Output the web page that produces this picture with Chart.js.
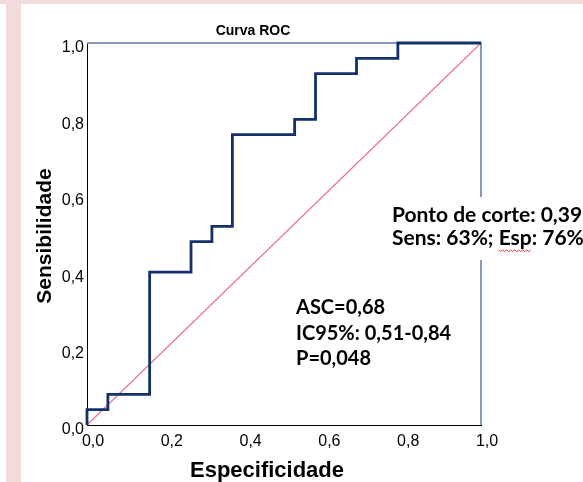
<!DOCTYPE html>
<html><head><meta charset="utf-8">
<script src="https://cdn.jsdelivr.net/npm/chart.js@4"></script>
<style>
html,body{margin:0;padding:0;background:#fff;}
#wrap{position:relative;width:583px;height:482px;overflow:hidden;background:#fff;}
.pk{position:absolute;background:#f2dcdb;}
canvas{position:absolute;left:0;top:0;}
</style></head><body>
<div id="wrap">
<div class="pk" style="left:0;top:0;width:583px;height:4px"></div>
<div class="pk" style="left:6px;top:0;width:15px;height:482px"></div>
<canvas id="c" width="583" height="482"></canvas>
</div>
<script>
// ROC curve vertices (1 - specificity, sensitivity)
const fpr  = [0, 0, 0.053, 0.159, 0.264, 0.317, 0.369, 0.527, 0.580, 0.684, 0.789, 1.0];
const sens = [0, 0.04, 0.08, 0.40, 0.48, 0.52, 0.76, 0.80, 0.92, 0.96, 1.0, 1.0];
// reference diagonal
const refX = [0, 1];
const refY = [0, 1];
// annotations
const statsLines = ["ASC=0,68", "IC95%: 0,51-0,84", "P=0,048"];
const cutLines = ["Ponto de corte: 0,39", "Sens: 63%; Esp: 76%"];
const chartTitle = "Curva ROC";
const xTitle = "Especificidade";
const yTitle = "Sensibilidade";

const rocData = fpr.map((x, i) => ({x: x, y: sens[i]}));
const refData = refX.map((x, i) => ({x: x, y: refY[i]}));
const fmt = v => Number(v).toFixed(1).replace('.', ',');

const deco = {
  id: 'deco',
  beforeDatasetsDraw(chart) {
    const {ctx, chartArea: a} = chart;
    ctx.save();
    ctx.strokeStyle = '#8a99ba';
    ctx.lineWidth = 2;
    ctx.beginPath();
    ctx.moveTo(a.left, a.top);
    ctx.lineTo(a.right, a.top);
    ctx.lineTo(a.right, a.bottom);
    ctx.stroke();
    ctx.restore();
  },
  afterDatasetsDraw(chart) {
    const {ctx} = chart;
    ctx.save();
    // white text box covering the right border
    ctx.fillStyle = '#fff';
    ctx.fillRect(388, 197, 195, 63);
    ctx.fillStyle = '#000';
    ctx.textBaseline = 'middle';
    ctx.textAlign = 'left';
    ctx.font = 'bold 21px Lato';
    ctx.fillText(cutLines[0], 392, 215);
    ctx.fillText(cutLines[1], 392, 238);
    // red spell-check squiggle under "Esp"
    const w0 = ctx.measureText(cutLines[1].slice(0, cutLines[1].indexOf('Esp'))).width;
    const w1 = ctx.measureText('Esp').width;
    ctx.strokeStyle = '#e03030';
    ctx.lineWidth = 1;
    ctx.beginPath();
    let sx = 392 + w0;
    for (let k = 0; sx + k <= 392 + w0 + w1; k += 2) {
      const yy = 250 + ((k / 2) % 2 ? 1.5 : 0);
      if (k === 0) ctx.moveTo(sx + k, yy); else ctx.lineTo(sx + k, yy);
    }
    ctx.stroke();
    ctx.font = 'bold 20px Lato';
    statsLines.forEach((t, i) => ctx.fillText(t, 296, 308 + i * 25.5));
    // title
    ctx.textAlign = 'center';
    ctx.font = 'bold 14px "Liberation Sans"';
    ctx.fillText(chartTitle, 253, 31);
    // axis titles
    ctx.font = 'bold 22px "Liberation Sans"';
    ctx.fillText(xTitle, 267, 471);
    ctx.translate(45, 236);
    ctx.rotate(-Math.PI / 2);
    ctx.font = 'bold 21px "Liberation Sans"';
    ctx.fillText(yTitle, 0, 0);
    ctx.restore();
  }
};

new Chart(document.getElementById('c'), {
  type: 'scatter',
  data: {
    datasets: [
      {data: refData, showLine: true, borderColor: '#ee6f95', borderWidth: 1.2, pointRadius: 0, clip: false, order: 2},
      {data: rocData, showLine: true, stepped: 'before', borderColor: '#14306b', borderWidth: 2.8, pointRadius: 0, clip: false, order: 1}
    ]
  },
  options: {
    responsive: false,
    animation: false,
    devicePixelRatio: 1,
    layout: {padding: {left: 47, right: 102, top: 43, bottom: 27}},
    plugins: {legend: {display: false}, title: {display: false}, tooltip: {enabled: false}},
    scales: {
      x: {
        type: 'linear', min: 0, max: 1,
        afterFit: s => { s.height = 30; },
        grid: {display: true, drawOnChartArea: false, drawTicks: false},
        border: {color: '#000', width: 1},
        ticks: {stepSize: 0.2, callback: fmt, color: '#000', padding: 7, labelOffset: 6,
                font: {family: '"Liberation Sans"', size: 16}, maxRotation: 0}
      },
      y: {
        type: 'linear', min: 0, max: 1,
        afterFit: s => { s.width = 40; },
        grid: {display: true, drawOnChartArea: false, drawTicks: false},
        border: {color: '#000', width: 1},
        ticks: {stepSize: 0.2, callback: fmt, color: '#000', padding: 3, labelOffset: 5,
                font: {family: '"Liberation Sans"', size: 16}}
      }
    }
  },
  plugins: [deco]
});
</script>
</body></html>
